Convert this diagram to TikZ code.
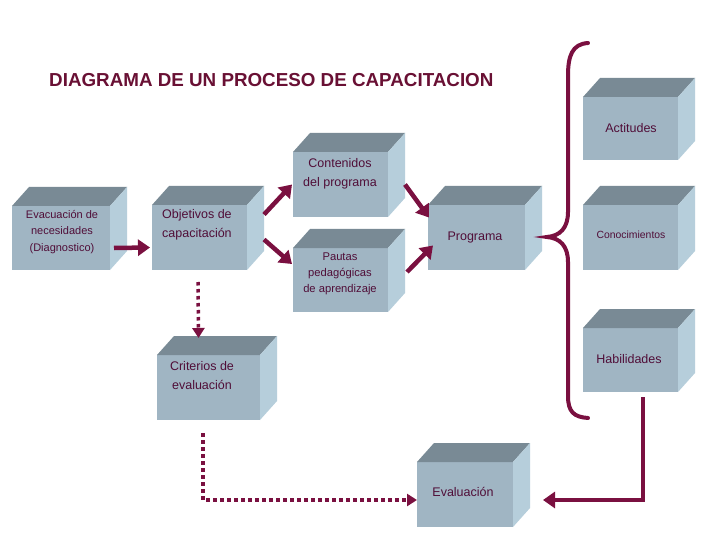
\documentclass[tikz,border=0pt]{standalone}
\usepackage{fontspec}
\setmainfont{Liberation Sans}
\usetikzlibrary{arrows.meta}
\definecolor{maroonc}{RGB}{122,16,64}
\definecolor{titlec}{RGB}{105,16,52}
\definecolor{textc}{RGB}{80,14,56}
\definecolor{frontc}{RGB}{160,181,195}
\definecolor{topc}{RGB}{121,138,149}
\definecolor{sidec}{RGB}{182,206,219}
\newcommand\cubebox[5]{%
  \node[frontface, minimum width={#4-#2}, minimum height={#5-#3}] (#1) at ({(#2+#4)/2},{(#3+#5)/2}) {};
  \fill[topc] (#1.north west) -- (#1.north east) -- ([shift={(17,-19)}]#1.north east) -- ([shift={(17,-19)}]#1.north west) -- cycle;
  \fill[sidec] (#1.north east) -- ([shift={(17,-19)}]#1.north east) -- ([shift={(17,-19)}]#1.south east) -- (#1.south east) -- cycle;
}
\tikzset{
  frontface/.style={draw=none, fill=frontc, inner sep=0pt, outer sep=0pt},
  boxtext/.style={text=textc, font=\fontsize{12.5}{19}\selectfont, align=center, inner sep=0pt},
  arr/.style={draw=maroonc, line width=4.5pt, -{Triangle[length=12pt,width=16pt]}},
  dotarr/.style={draw=maroonc, line width=3.5pt, dash pattern=on 3.5pt off 3.5pt, -{Triangle[length=10pt,width=12pt]}},
  bracec/.style={draw=maroonc, line width=4pt, line cap=round}
}
\begin{document}
\begin{tikzpicture}[x=1pt,y=-1pt]
\useasboundingbox[fill=white] (0,0) rectangle (720,540);
\node[anchor=west, text=titlec, font=\bfseries\fontsize{18.8}{20}\selectfont, inner sep=0pt] (title) at (49,80) {DIAGRAMA DE UN PROCESO DE CAPACITACION};

\cubebox{eva}{12}{206}{110}{270}
\cubebox{obj}{152}{205}{247}{270}
\cubebox{cont}{293}{152}{388}{217}
\cubebox{paut}{293}{248}{388}{312}
\cubebox{prog}{428}{205}{525}{270}
\cubebox{act}{583}{97}{678}{160}
\cubebox{con}{583}{205}{678}{270}
\cubebox{hab}{583}{328}{678}{392}
\cubebox{crit}{157}{355}{260}{420}
\cubebox{eval}{417}{462}{513}{527}

\node[boxtext, font=\fontsize{11}{16.5}\selectfont] (evat) at (62,232) {Evacuación de\\necesidades\\(Diagnostico)};
\node[boxtext, align=left, anchor=north west] (objt) at (162,209) {Objetivos de\\capacitación};
\node[boxtext] (contt) at (340,174) {Contenidos\\del programa};
\node[boxtext, font=\fontsize{11.2}{16}\selectfont] (pautt) at (340,274) {Pautas\\pedagógicas\\de aprendizaje};
\node[boxtext] (progt) at (475,237) {Programa};
\node[boxtext] (actt) at (631,128) {Actitudes};
\node[boxtext, font=\fontsize{10.4}{12}\selectfont] (cont2) at (631,235) {Conocimientos};
\node[boxtext] (habt) at (629,359) {Habilidades};
\node[boxtext] (critt) at (202,376) {Criterios de\\evaluación};
\node[boxtext] (evalt) at (463,492) {Evaluación};

% connectors
\draw[arr] ([shift={(4,10)}]eva.east) -- ([shift={(-2,10)}]obj.west);
\draw[arr] ([shift={(17,-23)}]obj.east) -- ([shift={(-1,0)}]cont.west);
\draw[arr] ([shift={(17,2)}]obj.east) -- ([shift={(-1,-16)}]paut.west);
\draw[arr] ([shift={(17,0)}]cont.east) -- ([shift={(1,-20)}]prog.west);
\draw[arr] ([shift={(19,-8)}]paut.east) -- ([shift={(5,8)}]prog.west);
\draw[dotarr] ([shift={(-1.5,12)}]obj.south) -- ([shift={(-10,-17)}]crit.north);
\draw[dotarr] ([shift={(-5.5,13)}]crit.south) |- ([shift={(0,5.5)}]eval.west);
\draw[arr] ([shift={(12.5,5)}]hab.south) |- ([shift={(30,5.5)}]eval.east);

% brace
\coordinate (btop) at (588,43);
\coordinate (bbot) at (588,418);
\coordinate (btip) at (547,237);
\draw[bracec] (btop) .. controls (572,44) and (568,56) .. (568,76) -- (568,212)
  .. controls (568,228) and (560,236) .. (btip)
  .. controls (560,238) and (568,246) .. (568,262) -- (568,396)
  .. controls (568,412) and (574,417) .. (bbot);
\end{tikzpicture}
\end{document}
